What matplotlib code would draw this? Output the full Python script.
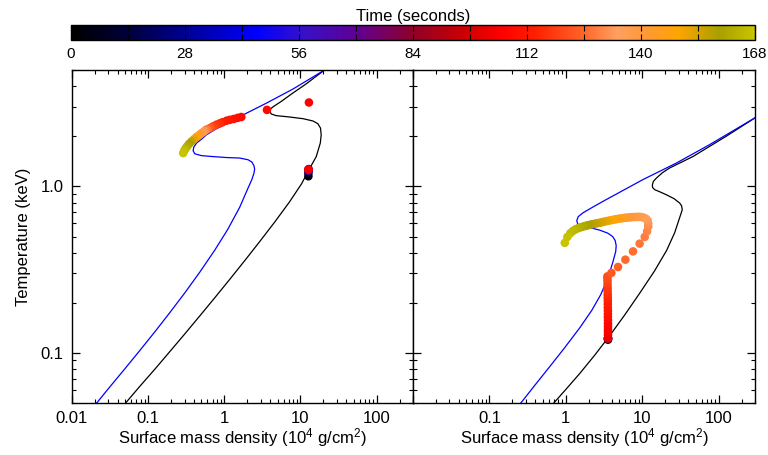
import matplotlib
matplotlib.use("Agg")
import matplotlib.pyplot as plt
from matplotlib.colors import LinearSegmentedColormap
from matplotlib.ticker import LogLocator, NullFormatter, MultipleLocator

plt.rcParams['font.family'] = ['Liberation Sans', 'DejaVu Sans']
plt.rcParams['mathtext.fontset'] = 'custom'
plt.rcParams['mathtext.rm'] = 'Liberation Sans'
plt.rcParams['mathtext.it'] = 'Liberation Sans:italic'

# --- thermal equilibrium curves (sigma in 1e4 g/cm^2, T in keV) ---
left_black_sigma = [0.0506, 0.0778, 0.1224, 0.1925, 0.3027, 0.476, 0.748, 1.177, 1.851, 2.911,
                    4.577, 7.195, 10.34, 13.16, 16.1, 18.2, 18.7, 18.3, 16.9, 14.6, 10.8, 7.2,
                    4.8, 4.14, 3.94, 4.06, 4.58, 5.6, 7.9, 11.9, 20.7]
left_black_temp = [0.050, 0.0630, 0.0798, 0.1018, 0.130, 0.1667, 0.2141, 0.2763, 0.3579, 0.4658,
                   0.6098, 0.8084, 1.037, 1.279, 1.51, 1.82, 2.04, 2.24, 2.38, 2.47, 2.55, 2.61,
                   2.66, 2.72, 2.82, 2.93, 3.05, 3.24, 3.63, 4.13, 5.0]

left_blue_sigma = [0.0211, 0.0315, 0.0495, 0.0778, 0.1224, 0.1925, 0.3027, 0.476, 0.748, 1.108,
                   1.591, 2.026, 2.30, 2.45, 2.50, 2.45, 2.30, 2.05, 1.59, 1.07, 0.711, 0.501,
                   0.409, 0.389, 0.397, 0.431, 0.501, 0.582, 0.787, 1.07, 1.95, 3.56, 7.94, 20.7]
left_blue_temp = [0.050, 0.0626, 0.0803, 0.1034, 0.1338, 0.1745, 0.2293, 0.3053, 0.4137, 0.5512,
                  0.7492, 0.966, 1.10, 1.20, 1.27, 1.33, 1.40, 1.445, 1.48, 1.49, 1.51, 1.53,
                  1.57, 1.64, 1.72, 1.82, 1.92, 2.04, 2.22, 2.38, 2.75, 3.16, 3.84, 5.0]

right_black_sigma = [0.697, 0.970, 1.524, 2.393, 3.758, 5.90, 9.27, 14.56, 20.9, 26.6, 30.9, 33.5,
                     32.8, 30.9, 26.0, 20.7, 16.8, 14.6, 13.7, 13.6, 14.0, 15.3, 18.5, 22.9, 46.1,
                     126, 300]
right_black_temp = [0.050, 0.0593, 0.0752, 0.0969, 0.1268, 0.1688, 0.228, 0.3112, 0.4125, 0.526,
                    0.647, 0.724, 0.765, 0.795, 0.845, 0.891, 0.930, 0.955, 0.985, 1.02, 1.07,
                    1.12, 1.21, 1.29, 1.51, 2.0, 2.58]

right_blue_sigma = [0.258, 0.3935, 0.618, 0.970, 1.524, 2.187, 2.868, 3.54, 4.116, 4.505, 4.57,
                    4.44, 4.116, 3.54, 2.78, 2.06, 1.62, 1.435, 1.393, 1.456, 1.693, 2.25, 3.07,
                    10.3, 28.0, 76.2, 300]
right_blue_temp = [0.050, 0.0639, 0.0828, 0.1076, 0.1414, 0.1799, 0.2237, 0.2794, 0.3485, 0.4058,
                   0.44, 0.4724, 0.4993, 0.5238, 0.5461, 0.5653, 0.577, 0.593, 0.6226, 0.658,
                   0.6954, 0.750, 0.813, 1.10, 1.38, 1.78, 2.58]

# --- simulated track, left run ---
left_time = [0, 14, 28, 42, 56, 70, 84, 98, 104, 106, 107, 108, 109, 110, 111,
             112, 114, 116, 118, 120, 123, 126, 129, 132, 136, 140, 144, 148, 152,
             156, 159, 162, 164, 166, 168]
left_sigma = [12.7, 12.7, 12.7, 12.8, 12.7, 12.7, 12.7, 12.7, 12.7, 12.9, 3.63, 1.67, 1.50,
              1.33, 1.18, 1.07, 0.95, 0.87, 0.79, 0.72, 0.66, 0.61, 0.58, 0.55, 0.52, 0.49,
              0.46, 0.43, 0.40, 0.37, 0.345, 0.325, 0.31, 0.298, 0.288]
left_temp = [1.15, 1.20, 1.23, 1.27, 1.25, 1.25, 1.25, 1.26, 1.26, 3.19, 2.88, 2.61, 2.58,
             2.54, 2.51, 2.48, 2.43, 2.39, 2.35, 2.30, 2.25, 2.21, 2.19, 2.15, 2.11, 2.07,
             2.02, 1.98, 1.92, 1.86, 1.80, 1.74, 1.69, 1.64, 1.585]

# --- simulated track, right run ---
right_time = [0, 28, 56, 84, 98,
              102, 103, 104, 105, 106, 107, 108, 109, 110, 111, 112, 113, 114, 115, 116,
              117, 118, 119, 120, 121, 122,
              124, 125, 126, 127, 128, 129, 130, 131,
              132, 133, 134, 135, 136, 137, 138, 139, 140, 141, 142, 143, 144, 145, 146,
              147, 148, 149, 150, 151, 152, 153, 154, 155, 156, 157, 158, 159, 160, 161,
              162, 163, 164, 165, 166, 167, 168]
right_sigma = [3.57, 3.57, 3.57, 3.57, 3.57,
               3.57, 3.57, 3.57, 3.57, 3.57, 3.57, 3.57, 3.56, 3.56, 3.56, 3.55, 3.55, 3.55,
               3.54, 3.54, 3.53, 3.53, 3.52, 3.52, 3.51, 3.51,
               3.95, 4.83, 6.03, 7.59, 9.27, 10.8, 11.6, 12.0,
               12.0, 11.8, 11.3, 10.6, 9.9, 9.2, 8.6, 8.0, 7.45, 6.95, 6.5, 6.05, 5.65,
               5.25, 4.9, 4.55, 4.25, 3.95, 3.7, 3.45, 3.2, 3.0, 2.8, 2.6, 2.42, 2.25,
               2.1, 1.95, 1.82, 1.69, 1.57, 1.46, 1.35, 1.25, 1.15, 1.05, 0.97]
right_temp = [0.120, 0.122, 0.122, 0.122, 0.122,
              0.123, 0.128, 0.133, 0.138, 0.144, 0.150, 0.157, 0.164, 0.171, 0.179, 0.187,
              0.196, 0.205, 0.214, 0.224, 0.235, 0.246, 0.258, 0.270, 0.280, 0.288,
              0.302, 0.328, 0.363, 0.407, 0.453, 0.497, 0.537, 0.575,
              0.600, 0.622, 0.638, 0.648, 0.654, 0.656, 0.656, 0.655, 0.654, 0.652, 0.650,
              0.648, 0.645, 0.642, 0.639, 0.635, 0.631, 0.627, 0.623, 0.619, 0.614, 0.610,
              0.605, 0.601, 0.597, 0.593, 0.589, 0.584, 0.579, 0.574, 0.568, 0.562, 0.553,
              0.541, 0.524, 0.497, 0.458]

time_ticks = [0, 28, 56, 84, 112, 140, 168]
x_ticks = [0.01, 0.1, 1, 10, 100]
left_x_labels = ['0.01', '0.1', '1', '10', '100']
right_x_labels = ['', '0.1', '1', '10', '100']
y_ticks = [0.1, 1.0]
y_labels = ['0.1', '1.0']

# time colour table: black -> blue -> purple -> red -> orange -> olive
time_cmap = LinearSegmentedColormap.from_list('time', [
    (0.00, '#000000'), (0.08, '#000038'), (0.17, '#000098'), (0.27, '#0000ff'),
    (0.34, '#3810c8'), (0.42, '#600090'), (0.50, '#900028'), (0.58, '#d00000'),
    (0.63, '#ff0000'), (0.68, '#ff2000'), (0.75, '#ff6628'), (0.80, '#ffa060'),
    (0.84, '#ff9838'), (0.89, '#ffa500'), (0.95, '#a8a000'), (1.00, '#c8c400')])

fig = plt.figure(figsize=(7.68, 4.55), dpi=100)
ax1 = fig.add_axes([72/768, 52/455, 341/768, 333/455])
ax2 = fig.add_axes([413/768, 52/455, 342/768, 333/455])
cax = fig.add_axes([71/768, 415/455, 684/768, 15/455])

panels = [
    (ax1, left_black_sigma, left_black_temp, left_blue_sigma, left_blue_temp,
     left_time, left_sigma, left_temp, left_x_labels),
    (ax2, right_black_sigma, right_black_temp, right_blue_sigma, right_blue_temp,
     right_time, right_sigma, right_temp, right_x_labels),
]

for ax, bs, bt, us, ut, tt, ss, ts, xl in panels:
    ax.plot(bs, bt, color='black', lw=0.9)
    ax.plot(us, ut, color='#0000ff', lw=0.9)
    sc = ax.scatter(ss, ts, c=tt, cmap=time_cmap, vmin=0, vmax=168, s=38,
                    edgecolors='none', zorder=3)
    ax.set_xscale('log')
    ax.set_yscale('log')
    ax.set_xlim(0.01, 300)
    ax.set_ylim(0.05, 5)
    ax.set_xticks(x_ticks)
    ax.set_xticklabels(xl)
    ax.xaxis.set_minor_locator(LogLocator(base=10, subs=range(2, 10), numticks=20))
    ax.xaxis.set_minor_formatter(NullFormatter())
    ax.yaxis.set_minor_locator(LogLocator(base=10, subs=range(2, 10), numticks=20))
    ax.yaxis.set_minor_formatter(NullFormatter())
    ax.tick_params(which='both', direction='in', top=True, right=True, labelsize=12, pad=6)
    ax.tick_params(which='major', length=6, width=0.9)
    ax.tick_params(which='minor', length=3, width=0.8)
    for sp in ax.spines.values():
        sp.set_linewidth(1.0)
    ax.set_xlabel(r'Surface mass density (10$^{4}$ g/cm$^{2}$)', fontsize=12, labelpad=0)

ax1.set_yticks(y_ticks)
ax1.set_yticklabels(y_labels)
ax1.set_ylabel('Temperature (keV)', fontsize=12, labelpad=7)
ax2.set_yticks(y_ticks)
ax2.set_yticklabels(['', ''])

cb = fig.colorbar(sc, cax=cax, orientation='horizontal', ticks=time_ticks)
cb.outline.set_linewidth(1.0)
cax.xaxis.set_minor_locator(MultipleLocator(14))
cax.tick_params(which='both', direction='in', top=True, bottom=True, labelsize=11, pad=5)
cax.tick_params(which='major', length=4, width=0.8)
cax.tick_params(which='minor', length=4, width=0.8)
cax.set_title('Time (seconds)', fontsize=12, pad=3)

fig.savefig('out.png', dpi=100)
